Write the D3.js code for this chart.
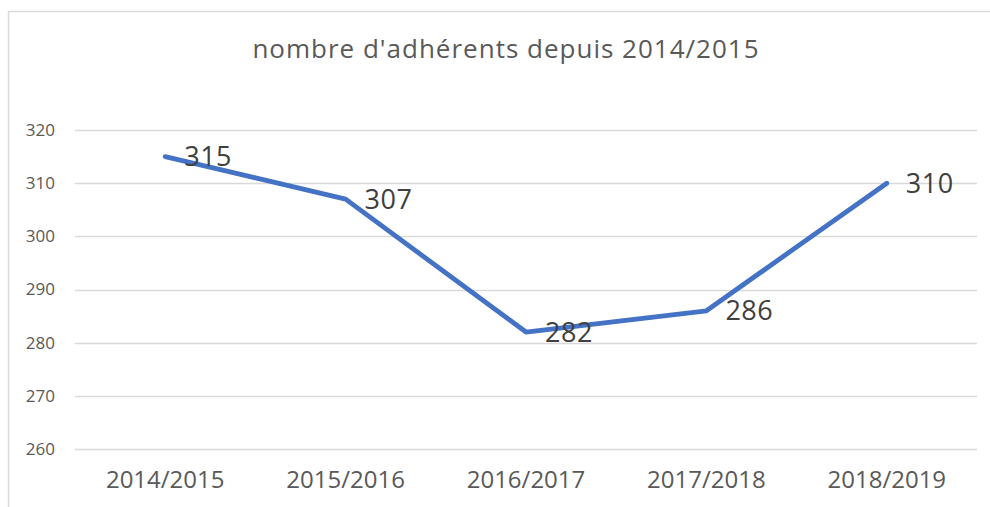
<!DOCTYPE html>
<html>
<head>
<meta charset="utf-8">
<script src="https://cdn.jsdelivr.net/npm/d3@7"></script>
<style>
  body { margin: 0; background: #fff; }
  text { font-family: "Open Sans", sans-serif; fill: #595959; }
</style>
</head>
<body>
<div id="my_dataviz"></div>
<script>
var seasons = ["2014/2015", "2015/2016", "2016/2017", "2017/2018", "2018/2019"];
var members = [315, 307, 282, 286, 310];
var yTicks = [260, 270, 280, 290, 300, 310, 320];

var W = 990, H = 507;
var margin = {top: 130, right: 13, bottom: 58, left: 75},
    width = W - margin.left - margin.right,
    height = H - margin.top - margin.bottom;

var root = d3.select("#my_dataviz")
  .append("svg")
    .attr("width", W)
    .attr("height", H);

// outer chart border (cut by the window on the right and bottom)
root.append("rect")
  .attr("x", 8.5).attr("y", 11.5)
  .attr("width", 1000).attr("height", 600)
  .attr("fill", "none")
  .attr("stroke", "#d9d9d9")
  .attr("stroke-width", 1.5);

root.append("text")
  .attr("x", 506).attr("y", 58)
  .attr("text-anchor", "middle")
  .style("font-size", "26px")
  .style("letter-spacing", "1px")
  .text("nombre d'adhérents depuis 2014/2015");

var svg = root.append("g")
  .attr("transform", "translate(" + margin.left + "," + margin.top + ")");

var x = d3.scaleBand()
  .domain(seasons)
  .range([0, width]);

var y = d3.scaleLinear()
  .domain([260, 320])
  .range([319, 0]);

// gridlines
svg.append("g")
  .selectAll("line")
  .data(yTicks)
  .enter()
  .append("line")
    .attr("x1", 0).attr("x2", width)
    .attr("y1", function(d) { return Math.round(y(d)) + 0.5; })
    .attr("y2", function(d) { return Math.round(y(d)) + 0.5; })
    .attr("stroke", "#d9d9d9")
    .attr("stroke-width", 1.5);

// Y axis labels
var yAxis = svg.append("g")
  .call(d3.axisLeft(y).tickValues(yTicks).tickSize(0).tickPadding(20));
yAxis.select(".domain").remove();
yAxis.selectAll("text")
  .style("font-size", "17px")
  .style("fill", "#595959");

// X axis labels
var xAxis = svg.append("g")
  .attr("transform", "translate(0," + y(260) + ")")
  .call(d3.axisBottom(x).tickSize(0).tickPadding(22));
xAxis.select(".domain").remove();
xAxis.selectAll("text")
  .style("font-size", "24px")
  .style("fill", "#595959");

var line = d3.line()
  .x(function(d, i) { return x(seasons[i]) + x.bandwidth() / 2; })
  .y(function(d) { return y(d); });

svg.append("path")
  .datum(members)
  .attr("d", line)
  .attr("fill", "none")
  .attr("stroke", "#4472c4")
  .attr("stroke-width", 4.8)
  .attr("stroke-linejoin", "round")
  .attr("stroke-linecap", "round");

// data labels
svg.append("g")
  .selectAll("text")
  .data(members)
  .enter()
  .append("text")
    .attr("x", function(d, i) { return x(seasons[i]) + x.bandwidth() / 2 + 19; })
    .attr("y", function(d) { return y(d); })
    .attr("dy", "0.36em")
    .style("font-size", "27px")
    .style("letter-spacing", "0.5px")
    .style("fill", "#404040")
    .text(function(d) { return d; });
</script>
</body>
</html>
